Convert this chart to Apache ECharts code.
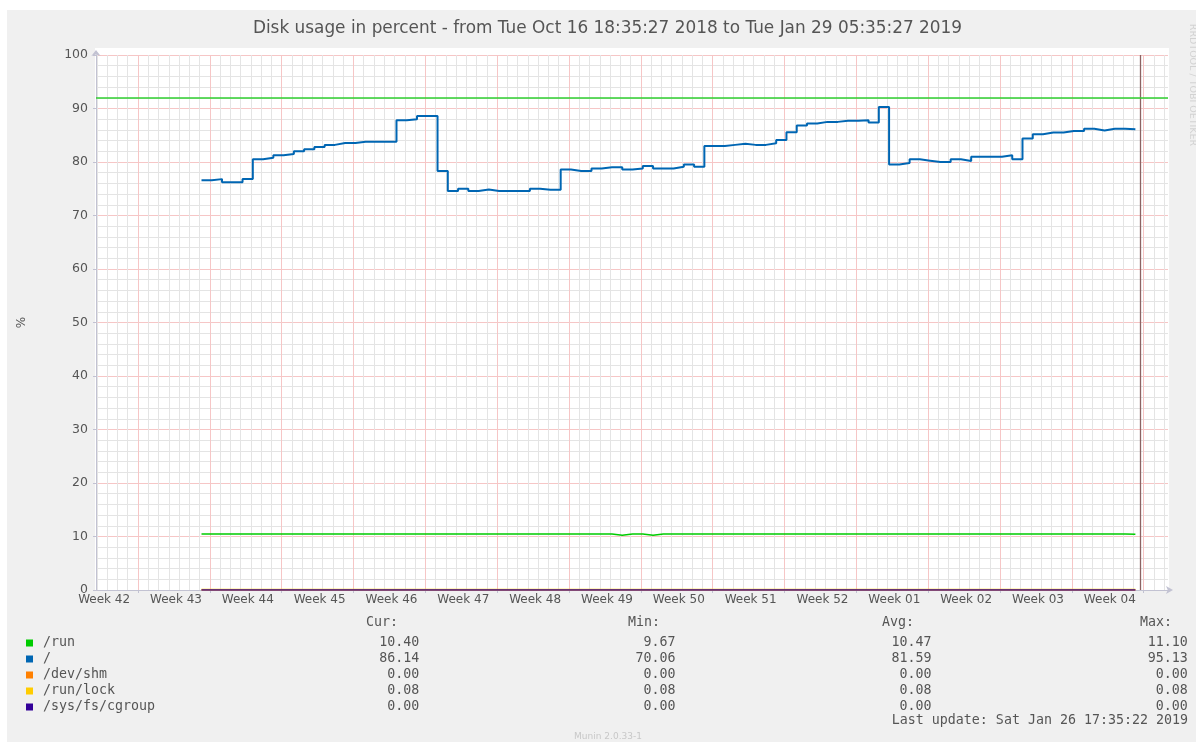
<!DOCTYPE html>
<html><head><meta charset="utf-8">
<script src="https://cdn.jsdelivr.net/npm/echarts@6/dist/echarts.min.js"></script>
<style>html,body{margin:0;padding:0;background:#fff;}#c{width:1196px;height:742px;}</style>
</head><body><div id="c"></div>
<script>
// ---------------- data ----------------
const titleText = 'Disk usage in percent - from Tue Oct 16 18:35:27 2018 to Tue Jan 29 05:35:27 2019';
const weekLabels = ['Week 42','Week 43','Week 44','Week 45','Week 46','Week 47','Week 48','Week 49',
                    'Week 50','Week 51','Week 52','Week 01','Week 02','Week 03','Week 04'];
const spanDays = 104.458;          // length of the time axis in days
const firstWeekBoundary = 4.09;    // day offset of first week boundary (Week 42 | Week 43)
const dataStartDay = 10.28;        // day offset of first daily sample
const nowDay = 101.8;              // last update marker
const warningLevel = 92;

const seriesNames  = ['/run', '/', '/dev/shm', '/run/lock', '/sys/fs/cgroup'];
const seriesColors = ['#00CC00', '#0066B3', '#FF8000', '#FFCC00', '#330099'];

// daily values of "/" (percent)
const rootValues = [
  76.6, 76.8, 76.2, 76.2, 76.8, 80.5, 80.8, 81.25, 81.5, 82.0,
  82.4, 82.8, 83.2, 83.55, 83.55, 83.8, 83.8, 83.8, 83.8, 87.8,
  88.0, 88.6, 88.6, 78.3, 74.6, 75.0, 74.6, 74.85, 74.6, 74.6,
  74.6, 74.6, 75.0, 74.8, 74.8, 78.6, 78.3, 78.3, 78.8, 79.0,
  79.0, 78.6, 78.8, 79.25, 78.8, 78.8, 79.1, 79.55, 79.1, 83.0,
  83.0, 83.2, 83.4, 83.2, 83.2, 83.5, 84.1, 85.55, 86.8, 87.2,
  87.5, 87.5, 87.7, 87.7, 87.8, 87.4, 90.3, 79.55, 79.8, 80.5,
  80.25, 80.0, 80.0, 80.5, 80.2, 81.0, 81.0, 81.0, 81.25, 80.5,
  84.4, 85.2, 85.5, 85.5, 85.8, 85.8, 86.2, 85.9, 86.2, 86.2,
  86.14
];
// daily values of "/run"
const runValues = [
  10.45, 10.45, 10.45, 10.45, 10.45, 10.45, 10.45, 10.45, 10.45, 10.45,
  10.45, 10.45, 10.45, 10.45, 10.45, 10.45, 10.45, 10.45, 10.45, 10.45,
  10.45, 10.45, 10.45, 10.45, 10.45, 10.45, 10.45, 10.45, 10.45, 10.45,
  10.45, 10.45, 10.45, 10.45, 10.45, 10.45, 10.45, 10.45, 10.45, 10.45,
  10.25, 10.45, 10.45, 10.25, 10.45, 10.45, 10.45, 10.45, 10.45, 10.45,
  10.45, 10.45, 10.45, 10.45, 10.45, 10.45, 10.45, 10.45, 10.45, 10.45,
  10.45, 10.45, 10.45, 10.45, 10.45, 10.45, 10.45, 10.45, 10.45, 10.45,
  10.45, 10.45, 10.45, 10.45, 10.45, 10.45, 10.45, 10.45, 10.45, 10.45,
  10.45, 10.45, 10.45, 10.45, 10.45, 10.45, 10.45, 10.45, 10.45, 10.45,
  10.40
];
// flat series: value at first and last sample
const devShmValues = [0.00, 0.00];
const runLockValues = [0.08, 0.08];
const cgroupValues = [0.00, 0.00];

// legend statistics
const curVals = ['10.40', '86.14', '0.00', '0.08', '0.00'];
const minVals = ['9.67', '70.06', '0.00', '0.08', '0.00'];
const avgVals = ['10.47', '81.59', '0.00', '0.08', '0.00'];
const maxVals = ['11.10', '95.13', '0.00', '0.08', '0.00'];
const lastUpdate = 'Last update: Sat Jan 26 17:35:22 2019';
const footer = 'Munin 2.0.33-1';
const sideText = 'RRDTOOL / TOBI OETIKER';

// ---------------- build ----------------
const nDays = rootValues.length;
function dailyPoints(vals) {
  const pts = vals.map((v, i) => [dataStartDay + i, v]);
  pts.push([dataStartDay + vals.length, vals[vals.length - 1]]);
  return pts;
}
function flatPoints(vals) {
  return [[dataStartDay, vals[0]], [dataStartDay + nDays, vals[1]]];
}
const weekBoundaries = [];
for (let k = 0; firstWeekBoundary + 7 * k <= spanDays; k++) weekBoundaries.push(+(firstWeekBoundary + 7 * k).toFixed(3));
const weekCenters = weekLabels.map((l, k) => +(firstWeekBoundary - 3.3 + 7 * k).toFixed(3));
const dayLines = [];
for (let d = firstWeekBoundary % 1; d <= spanDays; d += 1) dayLines.push(+d.toFixed(3));

const gridMarks = dayLines.map(v => ({xAxis: v, lineStyle: {color: '#e4e4e4', width: 1, type: 'solid'}}))
  .concat(weekBoundaries.map(v => ({xAxis: v, lineStyle: {color: '#f6c6c6', width: 1, type: 'solid'}})));

const FONT = 'DejaVu Sans';
const MONO = 'DejaVu Sans Mono';
const TXT = '#555555';

const dataList = [runValues, rootValues, devShmValues, runLockValues, cgroupValues];
const series = [{
  name: '__grid', type: 'line', data: [], z: 1, silent: true,
  markLine: {
    silent: true, animation: false, z: 1, symbol: ['none', 'none'],
    label: {show: false}, emphasis: {disabled: true},
    data: gridMarks.concat([{xAxis: nowDay, lineStyle: {color: '#8c6262', width: 1.3, type: 'solid'}}])
  }
}];
seriesNames.forEach((name, i) => {
  const vals = dataList[i];
  const s = {
    name, type: 'line', step: 'end', z: 3 + i,
    data: vals.length === 2 ? flatPoints(vals) : dailyPoints(vals),
    symbol: 'none', showSymbol: false,
    lineStyle: {color: seriesColors[i], width: i === 1 ? 2 : 1.5},
    itemStyle: {color: seriesColors[i]},
    emphasis: {disabled: true}, silent: true
  };
  if (i === 0) {
    s.markLine = {
      silent: true, animation: false, symbol: ['none', 'none'], label: {show: false},
      emphasis: {disabled: true},
      data: [{yAxis: warningLevel, lineStyle: {color: '#2fcf2f', width: 1.7, type: 'solid'}}]
    };
  }
  series.push(s);
});

function legendRow(name) {
  const i = seriesNames.indexOf(name);
  const cols = [curVals[i], minVals[i], avgVals[i], maxVals[i]];
  const ends = [47, 79, 111, 143];
  let s = name;
  cols.forEach((v, k) => { s = s.padEnd(ends[k] - v.length, ' ') + v; });
  return s;
}

const chart = echarts.init(document.getElementById('c'), null, {renderer: 'canvas'});
chart.setOption({
  animation: false,
  backgroundColor: '#f0f0f0',
  grid: {left: 96, top: 55, width: 1072, height: 535, show: false, containLabel: false},
  xAxis: {
    type: 'value', min: 0, max: spanDays,
    axisLine: {show: true, onZero: false, lineStyle: {color: '#c2c2d2', width: 1},
               symbol: ['none', 'arrow'], symbolSize: [6, 7], symbolOffset: [0, 5]},
    axisTick: {show: true, customValues: weekBoundaries, length: 3, lineStyle: {color: '#c2c2d2'}},
    axisLabel: {
      customValues: weekCenters, margin: 4, color: TXT, fontFamily: FONT, fontSize: 12,
      formatter: v => weekLabels[Math.round((v - weekCenters[0]) / 7)]
    },
    splitLine: {show: false}
  },
  yAxis: [{
    type: 'value', min: 0, max: 100, interval: 2, position: 'left',
    axisLine: {show: false}, axisTick: {show: false}, axisLabel: {show: false},
    splitLine: {show: true, lineStyle: {color: '#e4e4e4', width: 1}}
  }, {
    type: 'value', min: 0, max: 100, interval: 10, position: 'left',
    name: '%', nameLocation: 'middle', nameGap: 68, nameRotate: 90,
    nameTextStyle: {color: TXT, fontFamily: FONT, fontSize: 12},
    axisLine: {show: true, onZero: false, lineStyle: {color: '#c2c2d2', width: 1},
               symbol: ['none', 'arrow'], symbolSize: [7, 6], symbolOffset: [0, 5]},
    axisTick: {show: true, length: 3, lineStyle: {color: '#c2c2d2'}},
    axisLabel: {color: TXT, fontFamily: FONT, fontSize: 12.5, margin: 8},
    splitLine: {show: true, lineStyle: {color: '#f6c6c6', width: 1}}
  }],
  legend: {
    data: seriesNames, orient: 'vertical', left: 21, top: 630,
    itemWidth: 17, itemHeight: 7, itemGap: 0, icon: 'path://M0,0H7V7H0Z',
    selectedMode: false,
    textStyle: {fontFamily: MONO, fontSize: 13.3, color: TXT, lineHeight: 16},
    formatter: legendRow
  },
  graphic: [
    {type: 'rect', z: -10, silent: true, shape: {x: 0, y: 0, width: 1196, height: 10}, style: {fill: '#ffffff'}},
    {type: 'rect', z: -10, silent: true, shape: {x: 0, y: 0, width: 7, height: 742}, style: {fill: '#ffffff'}},
    {type: 'rect', z: -5, silent: true, shape: {x: 95, y: 48, width: 1074, height: 542}, style: {fill: '#ffffff'}},
    {type: 'text', silent: true, x: 607.5, y: 29, style: {text: titleText, font: '16.9px "DejaVu Sans"', fill: TXT, align: 'center', verticalAlign: 'middle'}},
    {type: 'text', silent: true, x: 398, y: 623, style: {text: 'Cur:', font: '13.3px "DejaVu Sans Mono"', fill: TXT, align: 'right', verticalAlign: 'middle'}},
    {type: 'text', silent: true, x: 660, y: 623, style: {text: 'Min:', font: '13.3px "DejaVu Sans Mono"', fill: TXT, align: 'right', verticalAlign: 'middle'}},
    {type: 'text', silent: true, x: 882, y: 623, style: {text: 'Avg:', font: '13.3px "DejaVu Sans Mono"', fill: TXT, align: 'left', verticalAlign: 'middle'}},
    {type: 'text', silent: true, x: 1172, y: 623, style: {text: 'Max:', font: '13.3px "DejaVu Sans Mono"', fill: TXT, align: 'right', verticalAlign: 'middle'}},
    {type: 'text', silent: true, x: 1188, y: 721, style: {text: lastUpdate, font: '13.3px "DejaVu Sans Mono"', fill: TXT, align: 'right', verticalAlign: 'middle'}},
    {type: 'text', silent: true, x: 608, y: 737, style: {text: footer, font: '9px "DejaVu Sans"', fill: '#c8c8c8', align: 'center', verticalAlign: 'middle'}},
    {type: 'text', silent: true, x: 1192, y: 85, rotation: -Math.PI / 2, style: {text: sideText, font: '9.5px "DejaVu Sans"', fill: '#d2d2d2', align: 'center', verticalAlign: 'middle'}}
  ],
  series
});
</script></body></html>
